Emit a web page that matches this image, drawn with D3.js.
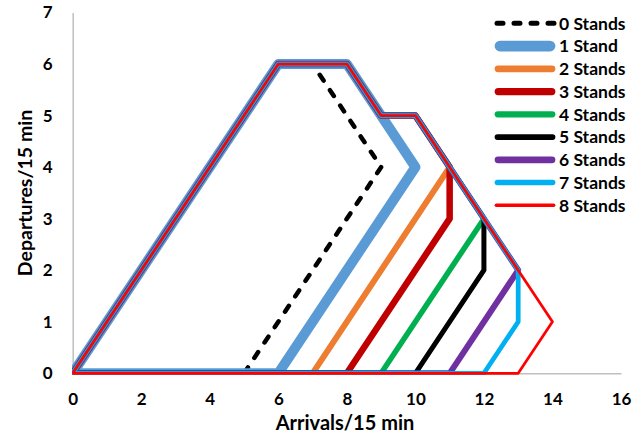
<!DOCTYPE html>
<html>
<head>
<meta charset="utf-8">
<script src="https://cdn.jsdelivr.net/npm/d3@7"></script>
<style>
  html, body { margin: 0; padding: 0; background: #fff; }
  svg { display: block; font-family: Lato, "Open Sans", sans-serif; font-weight: 700; }
</style>
</head>
<body>
<svg id="chart" width="635" height="439"></svg>
<script>
// ---- data ----
const seriesNames = ["0 Stands", "1 Stand", "2 Stands", "3 Stands", "4 Stands", "5 Stands", "6 Stands", "7 Stands", "8 Stands"];
const stands0X = [5, 9, 7];                         const stands0Y = [0, 4, 6];
const stands1X = [0, 6, 8, 10, 6, 0];               const stands1Y = [0, 6, 6, 4, 0, 0];
const stands2X = [0, 6, 8, 9, 10, 11, 7, 0];        const stands2Y = [0, 6, 6, 5, 5, 4, 0, 0];
const stands3X = [0, 6, 8, 9, 10, 11, 11, 8, 0];    const stands3Y = [0, 6, 6, 5, 5, 4, 3, 0, 0];
const stands4X = [0, 6, 8, 9, 10, 12, 9, 0];        const stands4Y = [0, 6, 6, 5, 5, 3, 0, 0];
const stands5X = [0, 6, 8, 9, 10, 12, 12, 10, 0];   const stands5Y = [0, 6, 6, 5, 5, 3, 2, 0, 0];
const stands6X = [0, 6, 8, 9, 10, 13, 11, 0];       const stands6Y = [0, 6, 6, 5, 5, 2, 0, 0];
const stands7X = [0, 6, 8, 9, 10, 13, 13, 12, 0];   const stands7Y = [0, 6, 6, 5, 5, 2, 1, 0, 0];
const stands8X = [0, 6, 8, 9, 10, 13, 14, 13, 0];   const stands8Y = [0, 6, 6, 5, 5, 2, 1, 0, 0];
const xTicks = [0, 2, 4, 6, 8, 10, 12, 14, 16];
const yTicks = [0, 1, 2, 3, 4, 5, 6, 7];
const xTitle = "Arrivals/15 min";
const yTitle = "Departures/15 min";

// ---- styles ----
const colors = ["#000000", "#5B9BD5", "#ED7D31", "#C00000", "#00B050", "#000000", "#7030A0", "#00B0F0", "#FF0000"];
const widths = [4.5, 10, 6, 6.5, 5.5, 5, 6, 4.75, 2.75];

const seriesX = [stands0X, stands1X, stands2X, stands3X, stands4X, stands5X, stands6X, stands7X, stands8X];
const seriesY = [stands0Y, stands1Y, stands2Y, stands3Y, stands4Y, stands5Y, stands6Y, stands7Y, stands8Y];
const series = seriesNames.map((name, i) => ({
  name, color: colors[i], width: widths[i], dashed: i === 0,
  points: seriesX[i].map((x, j) => [x, seriesY[i][j]])
}));

const svg = d3.select("#chart");
const x = d3.scaleLinear().domain([0, 16]).range([72.7, 621]);
const y = d3.scaleLinear().domain([0, 7]).range([373.3, 12.5]);

// axes
const gx = svg.append("g").attr("transform", `translate(0,${y(0)})`)
  .call(d3.axisBottom(x).tickValues(xTicks).tickSize(0).tickPadding(20).tickFormat(d3.format("d")));
const gy = svg.append("g").attr("transform", `translate(${x(0)},0)`)
  .call(d3.axisLeft(y).tickValues(yTicks).tickSize(0).tickPadding(20).tickFormat(d3.format("d")));
[gx, gy].forEach(g => {
  g.select(".domain").attr("stroke", "#BFBFBF").attr("stroke-width", 1.5);
  g.selectAll("text").attr("font-size", 17).attr("font-weight", 700).attr("fill", "#000")
    .attr("font-family", "Lato, 'Open Sans', sans-serif");
});

// clip
svg.append("clipPath").attr("id", "plotclip").append("rect")
  .attr("x", x(0) - 0.7).attr("y", 0)
  .attr("width", x(16) - x(0) + 20).attr("height", y(0) + 1.8);

const line = d3.line().x(d => x(d[0])).y(d => y(d[1]));
const plot = svg.append("g").attr("clip-path", "url(#plotclip)");
plot.selectAll("path.series").data(series).join("path")
  .attr("class", "series")
  .attr("d", d => line(d.points))
  .attr("fill", "none")
  .attr("stroke", d => d.color)
  .attr("stroke-width", d => d.width)
  .attr("stroke-linejoin", "round")
  .attr("stroke-linecap", d => d.dashed ? "round" : "butt")
  .attr("stroke-dasharray", d => d.dashed ? "7,11.5" : null);

// axis titles
svg.append("text").attr("x", 345).attr("y", 430).attr("text-anchor", "middle")
  .attr("font-size", 20).attr("fill", "#000").text(xTitle);
svg.append("text").attr("transform", `translate(32,193) rotate(-90)`).attr("text-anchor", "middle")
  .attr("font-size", 19.5).attr("fill", "#000").text(yTitle);

// legend
const legend = svg.append("g");
const rows = legend.selectAll("g").data(series).join("g")
  .attr("transform", (d, i) => `translate(0,${23.3 + i * 22.75})`);
rows.append("line")
  .attr("x1", d => d.dashed ? 497 : 495 + d.width / 2)
  .attr("x2", d => d.dashed ? 556 : 555 - d.width / 2)
  .attr("y1", 0).attr("y2", 0)
  .attr("stroke", d => d.color)
  .attr("stroke-width", d => d.dashed ? 5 : Math.max(d.width + 0.75, 3))
  .attr("stroke-linecap", "round")
  .attr("stroke-dasharray", d => d.dashed ? "6,11" : null);
rows.append("text").attr("x", 559).attr("y", 0).attr("dy", "0.36em")
  .attr("font-size", 17.5).attr("fill", "#000").text(d => d.name);
</script>
</body>
</html>
